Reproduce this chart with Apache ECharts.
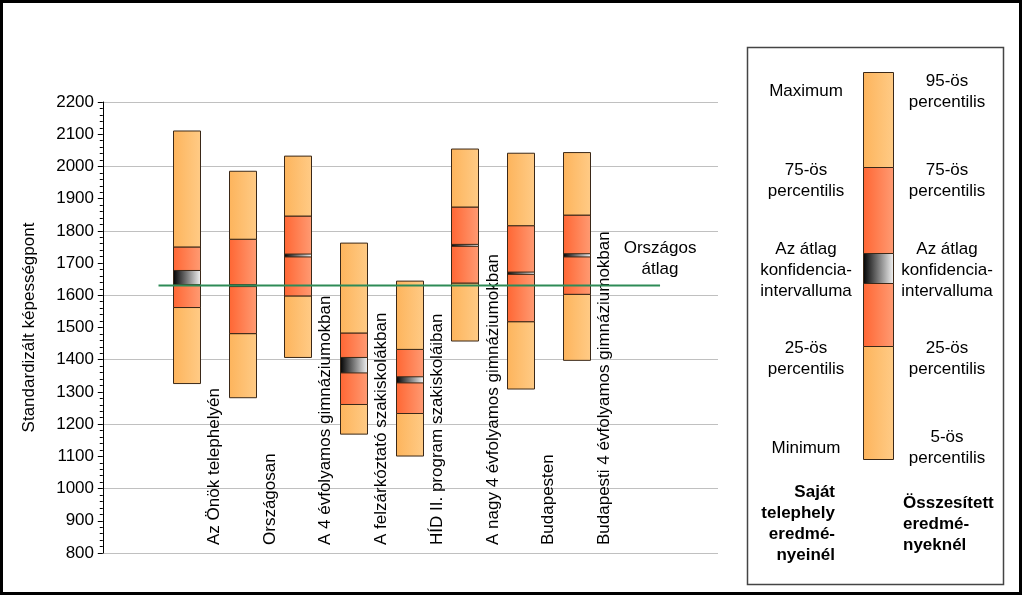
<!DOCTYPE html>
<html><head><meta charset="utf-8">
<script src="https://cdn.jsdelivr.net/npm/echarts@6/dist/echarts.min.js"></script>
<style>html,body{margin:0;padding:0;background:#fff}#c{width:1024px;height:597px}</style>
</head><body><div id="c"></div>
<script>
// ---- data ----
const categories = ['Az Önök telephelyén','Országosan','A 4 évfolyamos gimnáziumokban','A felzárkóztató szakiskolákban','HÍD II. program szakiskoláiban','A nagy 4 évfolyamos gimnáziumokban','Budapesten','Budapesti 4 évfolyamos gimnáziumokban'];
const lowValues    = [1326, 1282, 1407, 1169, 1101, 1458, 1309, 1398];
const p25Values    = [1562, 1481, 1598, 1261, 1233, 1638, 1518, 1603];
const ciLowValues  = [1633, 1627, 1719, 1359, 1328, 1752, 1665, 1719];
const ciHighValues = [1677, 1633, 1728, 1407, 1347, 1758, 1672, 1729];
const p75Values    = [1750, 1774, 1846, 1483, 1432, 1874, 1816, 1849];
const highValues   = [2110, 1985, 2032, 1762, 1644, 2054, 2041, 2043];
const nationalAverage = 1630;
const nationalLabel = 'Országos\nátlag';
const yMin = 800, yMax = 2200, yStep = 100, gridStep = 200;
const yTitle = 'Standardizált képességpont';
const legendLeft = ['Maximum','75-ös\npercentilis','Az átlag\nkonfidencia-\nintervalluma','25-ös\npercentilis','Minimum'];
const legendRight = ['95-ös\npercentilis','75-ös\npercentilis','Az átlag\nkonfidencia-\nintervalluma','25-ös\npercentilis','5-ös\npercentilis'];
const legendLeftTitle = 'Saját\ntelephely\neredmé-\nnyeinél';
const legendRightTitle = 'Összesített\neredmé-\nnyeknél';

// ---- styling ----
const FONT = '"Liberation Sans", Arial, sans-serif';
function grad(c1, c2){ return new echarts.graphic.LinearGradient(0,0,1,0,[{offset:0,color:c1},{offset:1,color:c2}]); }
const ORANGE = ['#FDB45C','#FFCB86'], RED = ['#FF6633','#FF9B73'], CI = ['#000000','#F4F4F4'];
const STROKE = '#3a2818';

const boxData = categories.map((c,i)=>[i+1.5, lowValues[i], p25Values[i], ciLowValues[i], ciHighValues[i], p75Values[i], highValues[i], i+2]);

function renderBox(params, api){
  const x = api.value(0);
  const w = api.size([0.485, 0])[0];
  const cx = api.coord([x, api.value(1)])[0];
  const y = v => api.coord([x, v])[1];
  const x0 = Math.round(cx - w/2) + 0.5;
  function seg(a, b, fill){
    const ya = y(a), yb = y(b);
    return {type:'rect', shape:{x:x0, y:yb, width:Math.round(w), height:ya-yb}, style:{fill:fill, stroke:STROKE, lineWidth:1}};
  }
  const children = [
    seg(api.value(1), api.value(2), grad(...ORANGE)),
    seg(api.value(2), api.value(5), grad(...RED)),
    seg(api.value(5), api.value(6), grad(...ORANGE)),
    seg(api.value(3), api.value(4), grad(...CI))
  ];
  const lp = api.coord([api.value(7), yMin]);
  children.push({type:'text', x: lp[0], y: lp[1]-8, rotation: Math.PI/2,
    style:{text: categories[params.dataIndex], align:'left', verticalAlign:'middle', fontSize:17, fontFamily:FONT, fill:'#000'}});
  return {type:'group', children};
}

// ---- legend (graphic) ----
const lgX = 863, lgW = 30;
const lgSegs = [[72,167,ORANGE],[167,253,RED],[283,346,RED],[346,459,ORANGE],[253,283,CI]];
const leftY = [91, 181, 270, 359, 448];
const graphics = [
  {type:'rect', shape:{x:1.5,y:1.5,width:1019,height:592}, style:{fill:'none', stroke:'#000', lineWidth:3}, z:100},
  {type:'rect', shape:{x:747.5,y:47.5,width:256,height:537}, style:{fill:'#fff', stroke:'#444', lineWidth:1.5}, z:1}
];
lgSegs.forEach(s=>graphics.push({type:'rect', shape:{x:lgX+0.5,y:s[0]+0.5,width:lgW,height:s[1]-s[0]}, style:{fill:grad(...s[2]), stroke:STROKE, lineWidth:1}, z:2}));
legendLeft.forEach((t,i)=>graphics.push({type:'text', x:806, y:leftY[i], style:{text:t, align:'center', verticalAlign:'middle', lineHeight:21, fontSize:17, fontFamily:FONT, fill:'#000'}, z:3}));
legendRight.forEach((t,i)=>graphics.push({type:'text', x:947, y:(i===0?92:leftY[i]), style:{text:t, align:'center', verticalAlign:'middle', lineHeight:21, fontSize:17, fontFamily:FONT, fill:'#000'}, z:3}));
graphics.push({type:'text', x:835, y:524, style:{text:legendLeftTitle, align:'right', verticalAlign:'middle', lineHeight:21, fontSize:17, fontWeight:'bold', fontFamily:FONT, fill:'#000'}, z:3});
graphics.push({type:'text', x:903, y:524, style:{text:legendRightTitle, align:'left', verticalAlign:'middle', lineHeight:21, fontSize:17, fontWeight:'bold', fontFamily:FONT, fill:'#000'}, z:3});

const chart = echarts.init(document.getElementById('c'));
chart.setOption({
  animation:false,
  backgroundColor:'#fff',
  grid:{left:100, right:306, top:102, bottom:44, containLabel:false},
  xAxis:{type:'value', min:-0.05, max:11.04, show:false},
  yAxis:[
    {type:'value', min:yMin, max:yMax, interval:yStep,
      name:yTitle, nameLocation:'middle', nameRotate:90, nameGap:62,
      nameTextStyle:{fontSize:17, fontFamily:FONT, color:'#000'},
      axisLine:{show:true, lineStyle:{color:'#000', width:1}},
      axisTick:{show:true, length:5, lineStyle:{color:'#000'}},
      minorTick:{show:true, splitNumber:5, length:3, lineStyle:{color:'#000'}},
      splitLine:{show:false},
      axisLabel:{fontSize:17, fontFamily:FONT, color:'#000', margin:6, formatter: v => String(v)}},
    {type:'value', min:yMin, max:yMax, interval:gridStep, position:'left',
      axisLine:{show:false}, axisTick:{show:false}, axisLabel:{show:false},
      splitLine:{show:true, lineStyle:{color:'#c0c0c0', width:1}}}
  ],
  series:[
    {type:'custom', renderItem:renderBox, data:boxData, yAxisIndex:0, clip:false, silent:true, z:2},
    {type:'line', yAxisIndex:0, silent:true, z:5,
      data:[[1, nationalAverage], {value:[10, nationalAverage], label:{show:true, formatter:nationalLabel, position:'top', distance:6, fontSize:17, lineHeight:21, fontFamily:FONT, color:'#000', align:'center'}}],
      symbol:'circle', symbolSize:0, showSymbol:true,
      lineStyle:{color:'#2E8B57', width:2}}
  ],
  graphic:graphics
});
</script></body></html>
